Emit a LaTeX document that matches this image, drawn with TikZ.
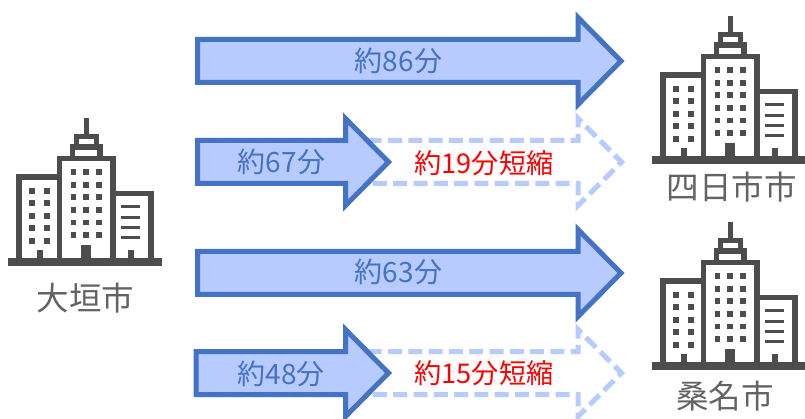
\documentclass[tikz,border=0pt]{standalone}
\usepackage{fontspec}
\setmainfont{Noto Sans CJK JP}
\definecolor{mblue}{HTML}{4472C4}
\definecolor{mfill}{HTML}{B8CBFF}
\definecolor{mgrey}{HTML}{4D4D4D}
\definecolor{mtext}{HTML}{636363}
\tikzset{solidarrow/.style = {draw=mblue, fill=mfill, line width=5pt, miter limit=10},
         ghostarrow/.style = {draw=mfill, line width=5pt, dash pattern=on 14pt off 6.3pt, dash phase=12.5pt},
         minutes/.style = {text=mblue, font=\fontsize{28}{28}\selectfont, inner sep=0pt},
         saved/.style = {text=red, font=\fontsize{27.2}{27.2}\selectfont, inner sep=0pt},
         city/.style = {text=mtext, font=\fontsize{32.5}{32.5}\selectfont, inner sep=0pt},
         building/.pic = {
           \fill [mgrey] (8, 258.3) rectangle (162, 265.7);
           \draw [mgrey, line width=5.6pt, fill=white] (18.8, 260) |- (58, 176.8);
           \draw [mgrey, line width=5.6pt] (59.5, 260) |- (112.9, 158.4) -- (112.9, 260);
           \draw [mgrey, line width=5.6pt] (112.9, 193.5) -| (151.2, 260);
           \draw [mgrey, line width=5.6pt] (72.3, 157) |- (99.9, 147) -- (99.9, 157);
           \draw [mgrey, line width=5.6pt] (76.3, 146) |- (96.3, 136.5) -- (96.3, 146);
           \fill [mgrey] (84, 117.7) rectangle (88.7, 135);
           \fill [mgrey] (81.3, 245.3) rectangle (91.3, 260);
           \fill [mgrey] (37, 249.7) rectangle (43.3, 260);
           \fill [mgrey] (127.7, 249.7) rectangle (134.3, 260);
           \foreach \wx in {70.7, 83.3, 96.3}
             \foreach \wy in {169.3, 182, 194.4, 207, 219.6, 232}
               \fill [mgrey] (\wx, \wy) rectangle +(5.7, 5.7);
           \foreach \wx in {29.3, 44.3}
             \foreach \wy in {188, 200.4, 212.8, 225.3, 238}
               \fill [mgrey] (\wx, \wy) rectangle +(5.9, 5.9);
           \foreach \wy in {207, 217.2, 227.3, 237.4}
             \draw [mgrey, line width=3pt] (120.7, \wy) -- (140.3, \wy);
         }}

\begin{document}
\begin{tikzpicture}[x=1pt, y=-1pt]
    \useasboundingbox (0, 0) rectangle (805, 419);

    % dashed outlines first, the short arrows sit on top of them
    \foreach \cy in {162, 373}
      \draw [ghostarrow] (197.5, \cy-21.5) -- (578, \cy-21.5) -- (578, \cy-43.5)
        -- (621.5, \cy) -- (578, \cy+43.5) -- (578, \cy+21.5) -- (197.5, \cy+21.5);

    \foreach \cy/\lx/\hx in {61/197.5/578, 162/197.5/345.5, 273/197.5/578, 373/196/345.5}
      \draw [solidarrow] (\lx, \cy-21.5) -- (\hx, \cy-21.5) -- (\hx, \cy-43.5)
        -- (\hx+43, \cy) -- (\hx, \cy+43.5) -- (\hx, \cy+21.5) -- (\lx, \cy+21.5) -- cycle;

    \node [minutes] (long1) at (398.5, 61) {約86分};
    \node [minutes] (short1) at (281.5, 162) {約67分};
    \node [minutes] (long2) at (398.5, 272) {約63分};
    \node [minutes] (short2) at (281, 373.5) {約48分};
    \node [saved] (saved1) at (484, 163) {約19分短縮};
    \node [saved] (saved2) at (484, 373.5) {約15分短縮};

    \pic at (0, 0) {building};
    \pic at (644, -102) {building};
    \pic at (644, 104) {building};

    \node [city] (ogaki) at (85.5, 298) {大垣市};
    \node [city] (yokkaichi) at (731.5, 187) {四日市市};
    \node [city] (kuwana) at (725, 396) {桑名市};
  \end{tikzpicture}
\end{document}
